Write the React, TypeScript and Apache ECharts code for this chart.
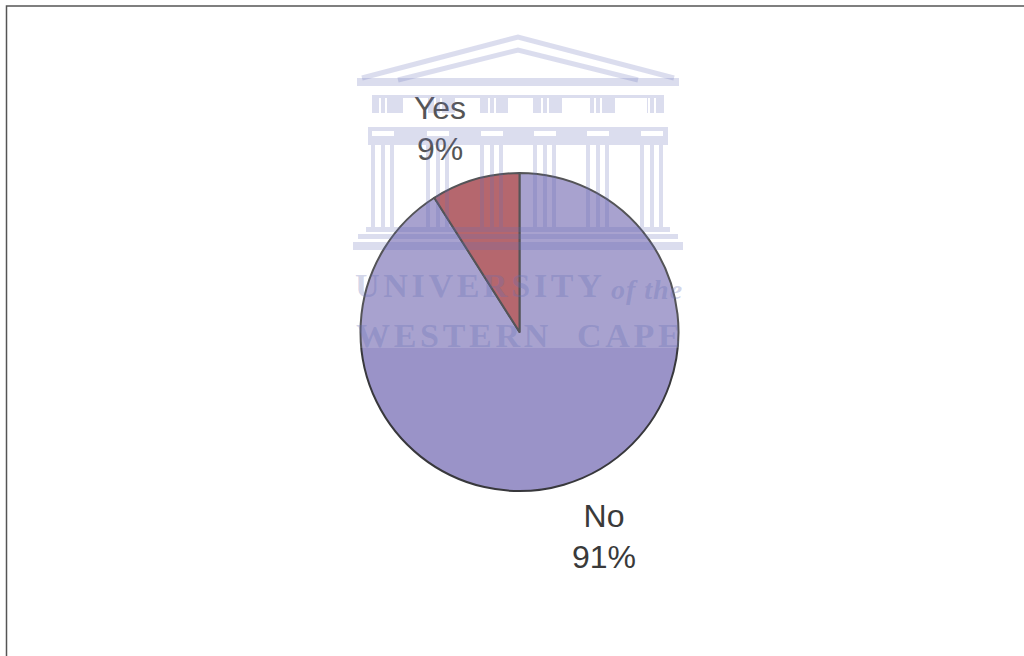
import React, { useEffect, useRef } from "react";
import * as echarts from "echarts";

const categories = ["No", "Yes"];
const shares = [91, 9];
const sliceColors = ["#9a93c8", "#a94e57"];
const columnCenters = [383, 438, 492, 545, 598, 652];
const friezeWindows = [
  [403, 428], [455, 480], [508, 533], [562, 590], [615, 647],
];
const crestWords = ["UNIVERSITY", "of the", "WESTERN", "CAPE"];

const CREST = "rgba(100,110,180,0.23)";
const CREST_TEXT = "rgba(100,110,180,0.3)";

const bar = (x: number, y: number, width: number, height: number) => ({
  type: "rect",
  z: 20,
  silent: true,
  shape: { x, y, width, height },
  style: { fill: CREST },
});

// Fills a horizontal run with bars, leaving the given gaps open.
const runWithGaps = (
  from: number,
  to: number,
  y: number,
  height: number,
  gaps: number[][],
) => {
  const bars = [];
  let cursor = from;
  for (const [a, b] of [...gaps].sort((p, q) => p[0] - q[0])) {
    if (a > cursor) bars.push(bar(cursor, y, a - cursor, height));
    cursor = b;
  }
  if (to > cursor) bars.push(bar(cursor, y, to - cursor, height));
  return bars;
};

const crestLine = (points: number[][], lineWidth: number) => ({
  type: "polyline",
  z: 20,
  silent: true,
  shape: { points },
  style: { stroke: CREST, fill: "none", lineWidth },
});

const crestLabel = (text: string, x: number, y: number, font: string) => ({
  type: "text",
  z: 20,
  silent: true,
  x,
  y,
  style: { text, font, fill: CREST_TEXT, textAlign: "left", textVerticalAlign: "bottom" },
});

// Crest behind the figure: pediment, frieze, columns, steps and the name below.
const crest = [
  crestLine([[362, 78], [518, 37], [674, 78]], 5),
  crestLine([[398, 80], [518, 50], [638, 80]], 5),
  bar(357, 78, 322, 8),
  bar(372, 95, 292, 3),
  ...runWithGaps(
    372,
    664,
    98,
    15,
    [
      ...friezeWindows,
      ...columnCenters.flatMap((c) => [
        [c - 4, c - 2],
        [c + 2, c + 4],
      ]),
    ],
  ),
  bar(368, 127, 300, 4),
  ...runWithGaps(
    368,
    668,
    131,
    5,
    columnCenters.map((c) => [c - 11, c + 11]),
  ),
  bar(368, 136, 300, 9),
  ...columnCenters.flatMap((c) => [
    bar(c - 12, 145, 4, 82),
    bar(c - 2, 145, 4, 82),
    bar(c + 7, 145, 4, 82),
  ]),
  bar(366, 227, 304, 5),
  bar(358, 234, 320, 5),
  bar(353, 242, 330, 8),
  crestLabel(crestWords[0], 355, 302, "bold 34px 'Liberation Serif'"),
  crestLabel(crestWords[1], 611, 303, "italic bold 28px 'Liberation Serif'"),
  crestLabel(crestWords[2], 356, 352, "bold 34px 'Liberation Serif'"),
  crestLabel(crestWords[3], 577, 352, "bold 34px 'Liberation Serif'"),
];

export default function App() {
  const ref = useRef<HTMLDivElement>(null);

  useEffect(() => {
    const chart = echarts.init(ref.current!, undefined, { renderer: "svg" });
    chart.setOption({
      animation: false,
      backgroundColor: "#ffffff",
      graphic: {
        elements: [
          {
            type: "polyline",
            z: 30,
            silent: true,
            shape: { points: [[6.5, 656], [6.5, 6], [1024, 6]] },
            style: { stroke: "#555555", fill: "none", lineWidth: 1.5 },
          },
          // Light veil over the upper part of the pie, ending under the crest name.
          {
            type: "rect",
            z: 10,
            silent: true,
            shape: { x: 353, y: 35, width: 330, height: 313 },
            style: { fill: "rgba(255,255,255,0.14)" },
          },
          ...crest,
        ],
      },
      series: [
        {
          type: "pie",
          center: [519.5, 332],
          radius: [0, 159],
          startAngle: 90,
          clockwise: true,
          avoidLabelOverlap: false,
          itemStyle: { borderColor: "#38383c", borderWidth: 2 },
          label: {
            show: true,
            formatter: "{b}\n{d}%",
            fontFamily: "Liberation Sans",
            fontSize: 32,
            lineHeight: 41,
            color: "#3a3a3a",
          },
          labelLine: { show: false },
          labelLayout: (p: { dataIndex: number }) =>
            p.dataIndex === 0
              ? { x: 604, y: 536, align: "center", verticalAlign: "middle" }
              : { x: 440, y: 128, align: "center", verticalAlign: "middle" },
          emphasis: { disabled: true },
          data: categories.map((name, i) => ({
            name,
            value: shares[i],
            itemStyle: { color: sliceColors[i] },
          })),
        },
      ],
    });
    return () => chart.dispose();
  }, []);

  return (
    <>
      {/* Spaced capitals for the crest name; ECharts text has no such option. */}
      <style>{`
        svg text[style*="Serif"] { letter-spacing: 3.7px; }
        svg text[style*="italic"] { letter-spacing: 1px; }
      `}</style>
      <div
        ref={ref}
        style={{ position: "fixed", left: 0, top: 0, width: 1024, height: 656 }}
      />
    </>
  );
}
